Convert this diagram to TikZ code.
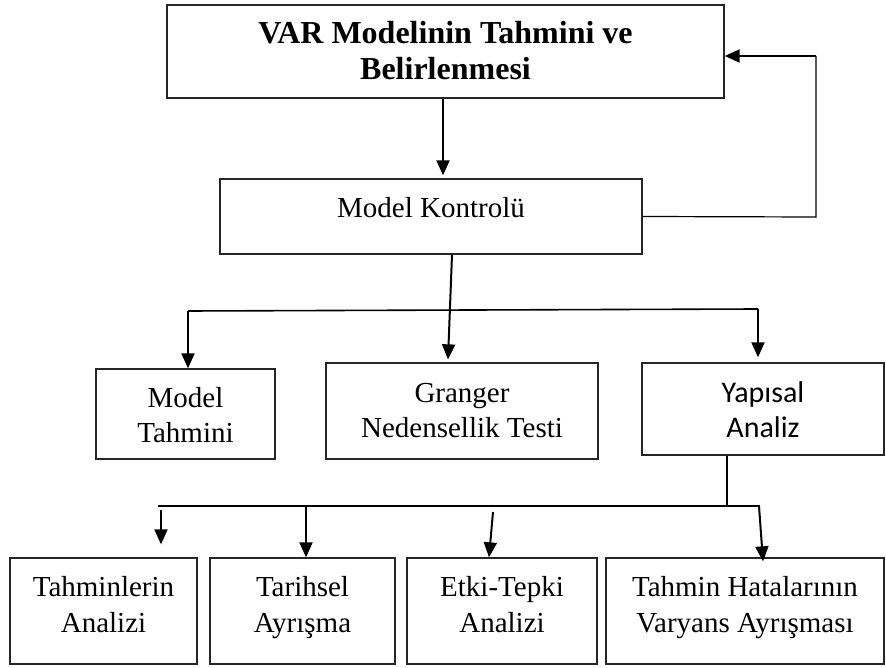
\documentclass[tikz,border=0pt]{standalone}
\usepackage{fontspec}
\setmainfont{Liberation Serif}
\newfontfamily\carlito{Carlito}
\usetikzlibrary{arrows.meta}
\newcommand{\twol}[4]{\rule{0pt}{#1pt}#3\\#4\rule[-#2pt]{0pt}{#2pt}}
\begin{document}
\begin{tikzpicture}[x=1pt,y=-1pt,
  box/.style={draw=black!85,line width=1.3pt,rectangle,inner sep=0pt,align=center,font=\fontsize{29}{35.5}\selectfont},
  arr/.style={line width=2pt,-{Triangle[length=15pt,width=13pt]}},
  conn/.style={line width=1.6pt},
  thinline/.style={line width=1.2pt}]
\useasboundingbox (0,0) rectangle (886,668);
\node[box,minimum width=557pt,minimum height=93pt,font=\fontsize{32}{36}\selectfont\bfseries] (top) at (445.5,51.5) {\twol{22}{3}{VAR Modelinin Tahmini ve}{Belirlenmesi}};
\node[box,minimum width=422pt,minimum height=75pt] (mk) at (431,216.5) {\rule{0pt}{20pt}Model Kontrolü\rule[-19pt]{0pt}{19pt}};
\node[box,minimum width=179pt,minimum height=90pt,font=\fontsize{29}{35}\selectfont] (mt) at (185.5,414) {\twol{23}{0}{Model}{Tahmini}};
\node[box,minimum width=272pt,minimum height=96pt,font=\fontsize{29}{35}\selectfont] (gr) at (462,411) {\twol{20}{3}{Granger}{Nedensellik Testi}};
\node[box,minimum width=242pt,minimum height=92pt,font=\fontsize{30}{35}\selectfont\carlito] (ya) at (763,409) {\twol{23}{0}{Yapısal}{Analiz}};
\node[box,minimum width=187pt,minimum height=106pt] (b1) at (103.5,611) {\twol{20}{13.5}{Tahminlerin}{Analizi}};
\node[box,minimum width=185pt,minimum height=106pt] (b2) at (302.5,611) {\twol{20}{13.5}{Tarihsel}{Ayrışma}};
\node[box,minimum width=190pt,minimum height=106pt] (b3) at (502,611) {\twol{20}{13.5}{Etki-Tepki}{Analizi}};
\node[box,minimum width=278pt,minimum height=106pt] (b4) at (745,611) {\twol{20}{13.5}{Tahmin Hatalarının}{Varyans Ayrışması}};
% top -> model kontrol
\draw[arr] ([xshift=-2.5pt]top.south) -- ([xshift=-2.5pt,yshift=3pt]top.south |- mk.north);
% feedback loop
\coordinate (fb) at (816,217);
\coordinate (fbt) at (816,56);
\draw[thinline] (mk.east) -- (fb) -- (fbt);
\draw[arr] (fbt) -- ([yshift=-4.5pt]top.east);
% model kontrol -> second row
\coordinate (j1) at (188,311);
\coordinate (j2) at (758,309);
\draw[conn] (j1) -- (j2);
\draw[arr] (j1) -- (j1 |- mt.north);
\draw[arr] ([xshift=21pt]mk.south) -- ([xshift=-14pt,yshift=3pt]gr.north);
\draw[arr] (j2) -- ([yshift=5pt]j2 |- ya.north);
% yapisal -> third row
\coordinate (j3) at (727,506);
\coordinate (h1) at (158,506);
\coordinate (h2) at (760,506);
\draw[thinline] (j3 |- ya.south) -- (j3);
\draw[conn] (h1) -- (h2);
\coordinate (a1) at (161,510);
\draw[arr] (a1) -- ([yshift=13pt]a1 |- b1.north);
\draw[arr] (306,506) -- ([xshift=3.5pt]b2.north);
\draw[arr] (493,512) -- ([xshift=-13pt]b3.north);
\draw[arr] (759,506) -- ([xshift=18pt,yshift=-4pt]b4.north);
\end{tikzpicture}
\end{document}
